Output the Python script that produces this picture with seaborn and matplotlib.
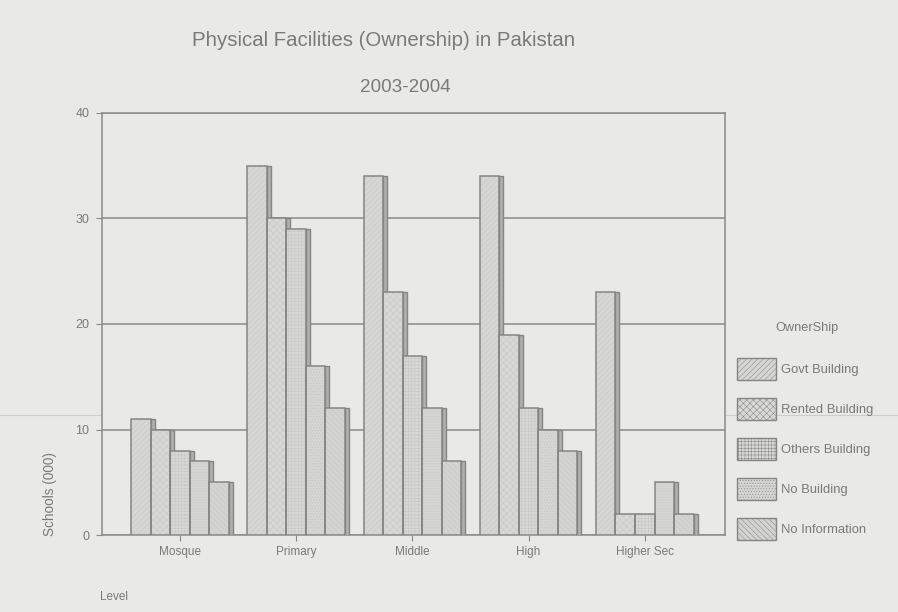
import matplotlib
matplotlib.use("Agg")
import matplotlib.pyplot as plt
from matplotlib.patches import Patch, Rectangle
from matplotlib.lines import Line2D
import seaborn as sns
import pandas as pd

levels = ["Mosque", "Primary", "Middle", "High", "Higher Sec"]
govt_building = [11, 35, 34, 34, 23]
rented_building = [10, 30, 23, 19, 2]
others_building = [8, 29, 17, 12, 2]
no_building = [7, 16, 12, 10, 5]
no_information = [5, 12, 7, 8, 2]
series_names = ["Govt Building", "Rented Building", "Others Building", "No Building", "No Information"]
series_values = [govt_building, rented_building, others_building, no_building, no_information]
yticks = [0, 10, 20, 30, 40]

rows = []
for name, vals in zip(series_names, series_values):
    for lvl, v in zip(levels, vals):
        rows.append({"Level": lvl, "Ownership": name, "Schools": v})
df = pd.DataFrame(rows)

BG = "#e9e9e7"
TXT = "#7a7a7a"
FILL = ["#d6d6d5", "#d8d8d7", "#d7d7d6", "#d5d5d4", "#d3d3d2"]
HATCHES = ["//////", "xxxxx", "+++++", "......", "\\\\\\\\\\\\"]
HATCH_COL = "#c6c6c5"
EDGE = "#858585"
SIDE = "#b0b0af"

sns.set_theme(style="white")
plt.rcParams["font.family"] = ["Liberation Sans", "DejaVu Sans"]
plt.rcParams["hatch.linewidth"] = 0.35

fig = plt.figure(figsize=(8.98, 6.12), dpi=100, facecolor=BG)
ax = fig.add_axes([0.1136, 0.1258, 0.6937, 0.6896])
ax.set_facecolor(BG)

sns.barplot(data=df, x="Level", y="Schools", hue="Ownership", order=levels,
            hue_order=series_names, palette=FILL, width=0.84, ax=ax,
            legend=False, zorder=3)

ax.set_xlim(-0.67, 4.69)
ax.set_ylim(0, 40)

side_w = 4.0 * (ax.get_xlim()[1] - ax.get_xlim()[0]) / (0.6937 * 898)
for i, cont in enumerate(ax.containers):
    for p in cont:
        p.set_hatch(HATCHES[i])
        p.set_edgecolor(HATCH_COL)
        p.set_linewidth(0)
        x0, y0 = p.get_xy()
        w, h = p.get_width(), p.get_height()
        side = Rectangle((x0 + w, y0), side_w, h, facecolor=SIDE, edgecolor=EDGE,
                         linewidth=1.0, zorder=2.9)
        ax.add_patch(side)
        outline = Rectangle((x0, y0), w, h, fill=False, edgecolor=EDGE,
                            linewidth=1.1, zorder=3.5)
        ax.add_patch(outline)

ax.set_yticks(yticks)
ax.yaxis.grid(True, color="#8a8a8a", linewidth=1.1)
ax.set_axisbelow(True)
for s in ax.spines.values():
    s.set_color("#8a8a8a")
    s.set_linewidth(1.1)
ax.tick_params(axis="both", colors=TXT, length=4, width=0.8, direction="out",
               bottom=True, left=True, color="#8a8a8a")
ax.tick_params(axis="x", labelsize=8.5, pad=4)
ax.tick_params(axis="y", labelsize=9, pad=5)
ax.set_xlabel("")
ax.set_ylabel("Schools (000)", color=TXT, fontsize=9.8)
ax.yaxis.set_label_coords(-0.072, 0.097)

fig.text(100 / 898, 1 - 597 / 612, "Level", color=TXT, fontsize=8.5, ha="left", va="center")
fig.text(384 / 898, 1 - 41 / 612, "Physical Facilities (Ownership) in Pakistan", color=TXT,
         fontsize=14.7, ha="center", va="center")
fig.text(405 / 898, 1 - 87.5 / 612, "2003-2004", color=TXT, fontsize=13.6, ha="center", va="center")

fig.text(807 / 898, 1 - 328 / 612, "OwnerShip", color=TXT, fontsize=9.2, ha="center", va="center")
handles = [Patch(facecolor=FILL[i], edgecolor=EDGE, hatch=HATCHES[i], linewidth=1.0)
           for i in range(len(series_names))]
leg = fig.legend(handles, series_names, loc="upper left",
                 bbox_to_anchor=(737 / 898, 1 - 358 / 612), frameon=False,
                 borderpad=0, borderaxespad=0,
                 fontsize=9.4, handlelength=3.0, handleheight=2.2,
                 labelspacing=1.39, handletextpad=0.35)
for t in leg.get_texts():
    t.set_color(TXT)

# faint scan line
fig.add_artist(Line2D([0, 1], [1 - 415 / 612, 1 - 415 / 612], transform=fig.transFigure,
                      color="#cdcdcc", linewidth=0.8, zorder=0))

fig.savefig("out.png", dpi=100, facecolor=BG)
